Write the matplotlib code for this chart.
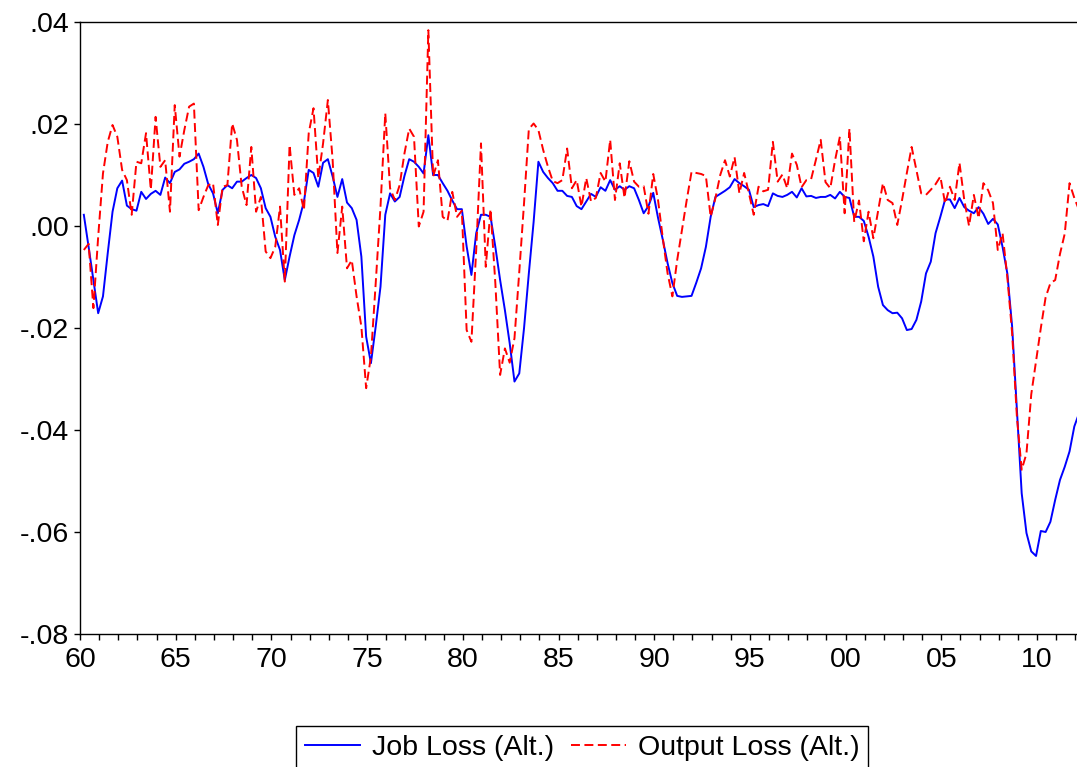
import matplotlib
matplotlib.use("Agg")
import matplotlib.pyplot as plt
import numpy as np
from matplotlib.ticker import FixedLocator, FixedFormatter

# ---- data: quarterly, 1960Q1 .. 2012Q1 ----
start_year = 1960
job_loss = [
    0.0022, -0.0041, -0.0106, -0.0171, -0.0138, -0.0053, 0.0028, 0.0074, 0.0089, 0.0040,
    0.0033, 0.0030, 0.0067, 0.0053, 0.0063, 0.0069, 0.0061, 0.0095, 0.0084, 0.0106,
    0.0111, 0.0122, 0.0126, 0.0131, 0.0142, 0.0116, 0.0082, 0.0064, 0.0025, 0.0071,
    0.0080, 0.0074, 0.0087, 0.0087, 0.0094, 0.0100, 0.0094, 0.0074, 0.0035, 0.0018,
    -0.0021, -0.0047, -0.0106, -0.0060, -0.0018, 0.0012, 0.0048, 0.0110, 0.0104, 0.0077,
    0.0124, 0.0131, 0.0097, 0.0057, 0.0092, 0.0046, 0.0035, 0.0012, -0.0060, -0.0217,
    -0.0269, -0.0197, -0.0119, 0.0022, 0.0064, 0.0048, 0.0057, 0.0098, 0.0131, 0.0126,
    0.0116, 0.0103, 0.0178, 0.0100, 0.0100, 0.0084, 0.0069, 0.0050, 0.0033, 0.0033,
    -0.0040, -0.0096, -0.0014, 0.0022, 0.0022, 0.0018, -0.0041, -0.0106, -0.0165, -0.0230,
    -0.0305, -0.0289, -0.0200, -0.0093, 0.0008, 0.0126, 0.0106, 0.0094, 0.0084, 0.0069,
    0.0069, 0.0059, 0.0057, 0.0039, 0.0033, 0.0048, 0.0063, 0.0057, 0.0076, 0.0069,
    0.0090, 0.0071, 0.0078, 0.0071, 0.0078, 0.0074, 0.0051, 0.0025, 0.0039, 0.0065,
    0.0016, -0.0027, -0.0073, -0.0112, -0.0137, -0.0139, -0.0138, -0.0137, -0.0111, -0.0083,
    -0.0041, 0.0018, 0.0057, 0.0063, 0.0069, 0.0076, 0.0092, 0.0084, 0.0078, 0.0071,
    0.0037, 0.0041, 0.0043, 0.0039, 0.0064, 0.0059, 0.0057, 0.0061, 0.0067, 0.0056,
    0.0074, 0.0058, 0.0059, 0.0055, 0.0057, 0.0057, 0.0061, 0.0054, 0.0067, 0.0057,
    0.0055, 0.0018, 0.0018, 0.0010, -0.0021, -0.0060, -0.0119, -0.0155, -0.0165, -0.0171,
    -0.0170, -0.0181, -0.0204, -0.0202, -0.0184, -0.0148, -0.0093, -0.0070, -0.0014, 0.0018,
    0.0052, 0.0052, 0.0035, 0.0055, 0.0037, 0.0030, 0.0025, 0.0037, 0.0024, 0.0004,
    0.0014, 0.0003, -0.0041, -0.0093, -0.0197, -0.0360, -0.0524, -0.0602, -0.0638, -0.0647,
    -0.0598, -0.0600, -0.0580, -0.0537, -0.0498, -0.0472, -0.0442, -0.0393, -0.0367,
]
output_loss = [
    -0.0047, -0.0035, -0.0161, -0.0021, 0.0103, 0.0165, 0.0198, 0.0175, 0.0110, 0.0090,
    0.0022, 0.0126, 0.0123, 0.0182, 0.0071, 0.0214, 0.0116, 0.0129, 0.0028, 0.0237,
    0.0136, 0.0188, 0.0234, 0.0240, 0.0031, 0.0057, 0.0080, 0.0084, 0.0002, 0.0077,
    0.0080, 0.0201, 0.0169, 0.0077, 0.0041, 0.0155, 0.0028, 0.0057, -0.0050, -0.0063,
    -0.0041, 0.0038, -0.0109, 0.0159, 0.0061, 0.0074, 0.0031, 0.0182, 0.0231, 0.0094,
    0.0162, 0.0247, 0.0129, -0.0053, 0.0038, -0.0083, -0.0067, -0.0138, -0.0197, -0.0318,
    -0.0256, -0.0112, 0.0038, 0.0221, 0.0074, 0.0051, 0.0080, 0.0142, 0.0191, 0.0175,
    -0.0001, 0.0028, 0.0384, 0.0097, 0.0129, 0.0018, 0.0010, 0.0067, 0.0018, 0.0030,
    -0.0204, -0.0227, -0.0047, 0.0162, -0.0080, 0.0033, -0.0112, -0.0292, -0.0240, -0.0268,
    -0.0220, -0.0090, 0.0045, 0.0190, 0.0201, 0.0188, 0.0149, 0.0116, 0.0088, 0.0084,
    0.0090, 0.0152, 0.0074, 0.0090, 0.0038, 0.0094, 0.0048, 0.0055, 0.0104, 0.0087,
    0.0169, 0.0051, 0.0123, 0.0055, 0.0127, 0.0087, 0.0077, 0.0078, 0.0024, 0.0102,
    0.0051, -0.0024, -0.0093, -0.0138, -0.0067, -0.0008, 0.0051, 0.0106, 0.0104, 0.0102,
    0.0098, 0.0018, 0.0055, 0.0100, 0.0129, 0.0097, 0.0135, 0.0064, 0.0104, 0.0064,
    0.0022, 0.0077, 0.0068, 0.0071, 0.0165, 0.0087, 0.0101, 0.0074, 0.0142, 0.0120,
    0.0076, 0.0090, 0.0092, 0.0130, 0.0169, 0.0086, 0.0074, 0.0129, 0.0175, 0.0025,
    0.0191, 0.0008, 0.0050, -0.0030, 0.0028, -0.0024, 0.0030, 0.0084, 0.0051, 0.0045,
    0.0002, 0.0051, 0.0104, 0.0155, 0.0110, 0.0064, 0.0061, 0.0071, 0.0082, 0.0097,
    0.0044, 0.0077, 0.0051, 0.0124, 0.0051, 0.0000, 0.0061, 0.0015, 0.0084, 0.0070,
    0.0045, -0.0047, -0.0014, -0.0100, -0.0210, -0.0374, -0.0478, -0.0446, -0.0330, -0.0265,
    -0.0200, -0.0140, -0.0112, -0.0106, -0.0055, -0.0015, 0.0084, 0.0055, 0.0031,
]
series_names = ["Job Loss (Alt.)", "Output Loss (Alt.)"]
x_tick_years = [1960, 1965, 1970, 1975, 1980, 1985, 1990, 1995, 2000, 2005, 2010]
x_tick_labels = ["60", "65", "70", "75", "80", "85", "90", "95", "00", "05", "10"]
y_tick_values = [-0.08, -0.06, -0.04, -0.02, 0.00, 0.02, 0.04]
y_tick_labels = ["-.08", "-.06", "-.04", "-.02", ".00", ".02", ".04"]

# ---- figure ----
W, H = 1077, 767
fig = plt.figure(figsize=(W / 100, H / 100), dpi=100)
plt.rcParams['font.family'] = ['Liberation Sans', 'DejaVu Sans']

x_left_px, top_px, bottom_px = 80, 22, 634
years_span = 52.25
px_per_year = 19.14
right_px = x_left_px + years_span * px_per_year
ax = fig.add_axes([x_left_px / W, 1 - bottom_px / H,
                   (right_px - x_left_px) / W, (bottom_px - top_px) / H])

n = len(job_loss)
t = start_year + 0.2 + np.arange(n) / 4.0

ax.plot(t, job_loss, color=(0, 0, 1), lw=1.4, label=series_names[0])
ax.plot(t, output_loss, color=(1, 0, 0), lw=1.4, dashes=(4.6, 2.3),
        label=series_names[1])

ax.set_xlim(start_year, start_year + years_span)
ax.set_ylim(-0.08, 0.04)

ax.xaxis.set_major_locator(FixedLocator(x_tick_years))
ax.xaxis.set_major_formatter(FixedFormatter(x_tick_labels))
ax.xaxis.set_minor_locator(FixedLocator(list(range(1960, 2013))))
ax.yaxis.set_major_locator(FixedLocator(y_tick_values))
ax.yaxis.set_major_formatter(FixedFormatter(y_tick_labels))

fs = 20.5
ax.tick_params(axis='x', which='both', direction='out', length=4.5, width=1,
               labelsize=fs, pad=5, top=False)
ax.tick_params(axis='y', which='both', direction='out', length=4, width=1,
               labelsize=fs, pad=4, right=False)
for s in ax.spines.values():
    s.set_linewidth(1.0)
    s.set_color('black')

leg = fig.legend(loc='upper center', bbox_to_anchor=(582 / W, 1 - 726 / H),
                 ncol=2, fontsize=fs, frameon=True, fancybox=False,
                 edgecolor='black', framealpha=1, handlelength=1.95,
                 handletextpad=0.4, columnspacing=0.6, borderpad=0.3,
                 borderaxespad=0)
leg.get_frame().set_linewidth(1.0)

fig.savefig("out.png", dpi=100)
